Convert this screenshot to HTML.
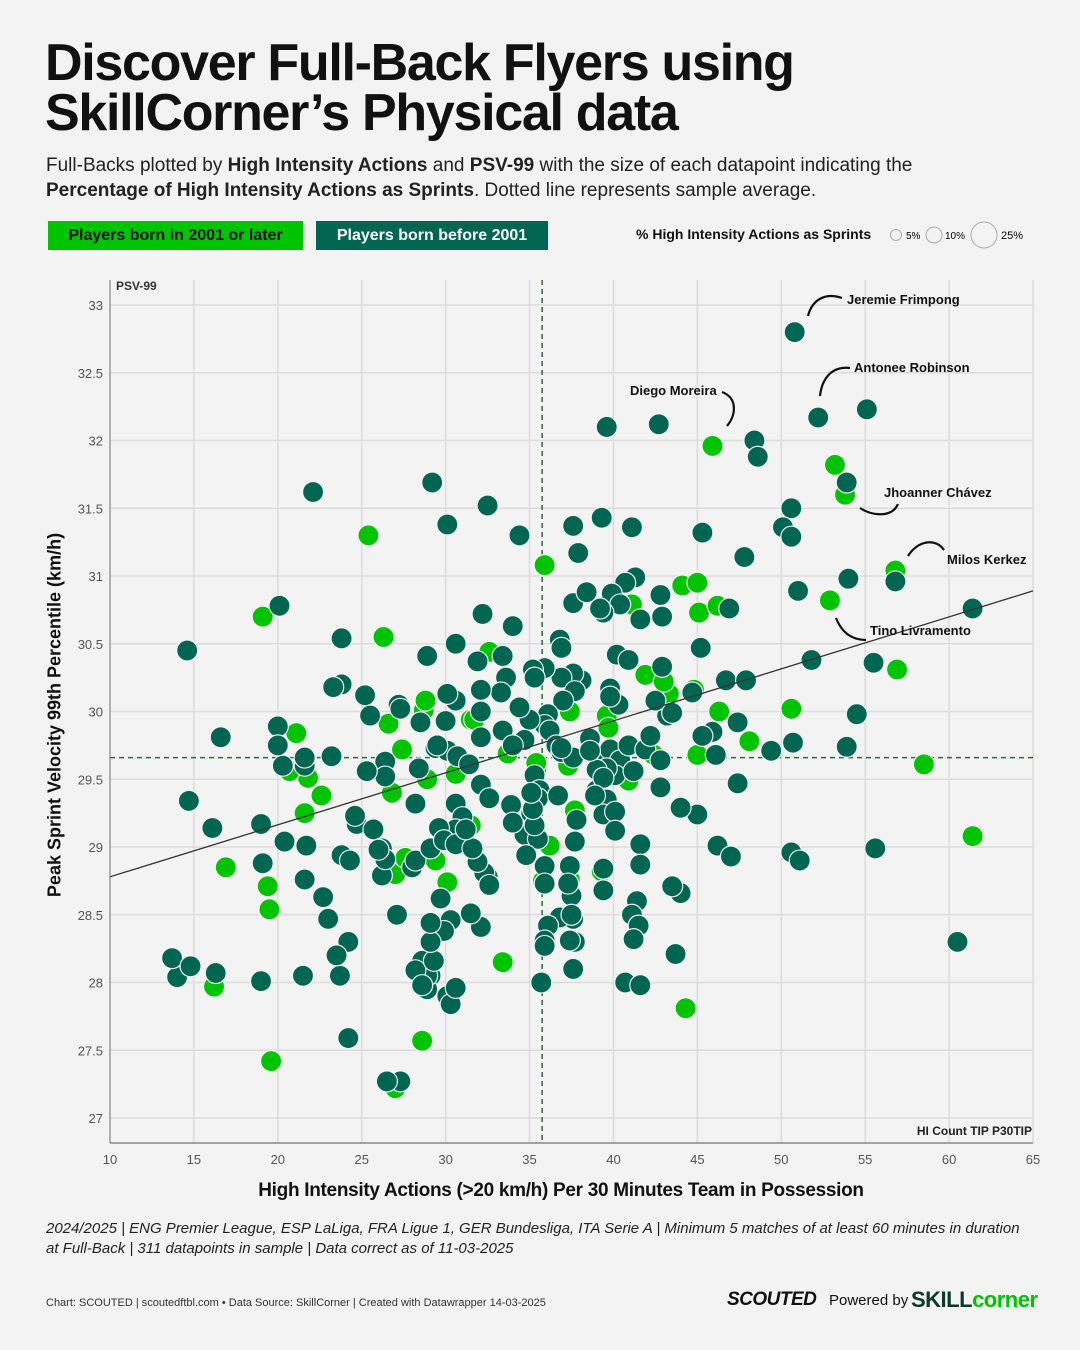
<!DOCTYPE html>
<html><head><meta charset="utf-8">
<style>
body{margin:0;background:#f3f3f3;font-family:"Liberation Sans",sans-serif;color:#111;}
#page{position:relative;width:1080px;height:1350px;overflow:hidden;background:#f3f3f3;}
.t{position:absolute;white-space:nowrap;}
</style></head>
<body>
<div id="page">
<div class="t" style="left:45px;top:38px;font-size:52px;font-weight:bold;line-height:50px;letter-spacing:-1.3px;">Discover Full-Back Flyers using<br>SkillCorner’s Physical data</div>
<div class="t" style="left:46px;top:153px;font-size:19px;line-height:25px;color:#222;">Full-Backs plotted by <b>High Intensity Actions</b> and <b>PSV-99</b> with the size of each datapoint indicating the<br><b>Percentage of High Intensity Actions as Sprints</b>. Dotted line represents sample average.</div>
<div class="t" style="left:48px;top:221px;width:255px;height:29px;background:#00c400;font-size:16px;font-weight:bold;line-height:29px;text-align:center;color:#111;">Players born in 2001 or later</div>
<div class="t" style="left:316px;top:221px;width:232px;height:29px;background:#006652;font-size:16px;font-weight:bold;line-height:29px;text-align:center;color:#fff;">Players born before 2001</div>
<div class="t" style="left:636px;top:226px;font-size:14px;font-weight:bold;">% High Intensity Actions as Sprints</div>
<svg style="position:absolute;left:885px;top:220px" width="150" height="32">
<circle cx="11" cy="15" r="5.5" fill="none" stroke="#aaa"/><text x="21" y="19" font-size="10" font-family="Liberation Sans">5%</text>
<circle cx="49" cy="15" r="8" fill="none" stroke="#aaa"/><text x="60" y="19" font-size="10" font-family="Liberation Sans">10%</text>
<circle cx="99" cy="15" r="13" fill="none" stroke="#aaa"/><text x="116" y="19" font-size="11" font-family="Liberation Sans">25%</text>
</svg>
<svg id="chart" style="position:absolute;left:0;top:0" width="1080" height="1350" font-family="Liberation Sans"></svg>
<div class="t" style="left:55px;top:715px;transform:translate(-50%,-50%) rotate(-90deg);font-size:18px;font-weight:bold;">Peak Sprint Velocity 99th Percentile (km/h)</div>
<div class="t" style="left:561px;top:1180px;transform:translateX(-50%);font-size:19px;font-weight:bold;letter-spacing:-0.3px;">High Intensity Actions (&gt;20 km/h) Per 30 Minutes Team in Possession</div>
<div class="t" style="left:46px;top:1219px;font-size:15px;font-style:italic;line-height:20px;color:#222;">2024/2025 | ENG Premier League, ESP LaLiga, FRA Ligue 1, GER Bundesliga, ITA Serie A | Minimum 5 matches of at least 60 minutes in duration<br>at Full-Back | 311 datapoints in sample | Data correct as of 11-03-2025</div>
<div class="t" style="left:46px;top:1297px;font-size:11px;color:#333;">Chart: SCOUTED | scoutedftbl.com • Data Source: SkillCorner | Created with Datawrapper 14-03-2025</div>
<div class="t" style="left:727px;top:1289px;font-size:19px;font-weight:900;font-style:italic;letter-spacing:-0.5px;">SCOUTED</div>
<div class="t" style="left:829px;top:1292px;font-size:15px;">Powered by</div>
<div class="t" style="left:911px;top:1287px;font-size:22px;font-weight:bold;letter-spacing:-0.5px;"><span style="color:#0b3a2a">SKILL</span><span style="color:#00c400">corner</span></div>
</div>
<script>
const xTicks=[10,15,20,25,30,35,40,45,50,55,60,65];
const yTicks=[27,27.5,28,28.5,29,29.5,30,30.5,31,31.5,32,32.5,33];
const avgX=35.75, avgY=29.66;
const trendX=[10,65]; const trendY=[28.78,30.89];
const oldX=[50.8,52.2,55.1,42.7,39.6,48.4,48.6,53.9,50.6,50.1,50.6,47.8,45.3,39.3,37.6,41.1,37.9,34.4,32.5,30.1,29.2,22.1,56.8,54.0,51.0,61.4,51.8,55.5,54.5,53.9,50.7,49.4,55.6,50.6,51.1,60.5,43.7,40.7,41.6,35.7,44.0,43.5,41.4,41.1,41.6,45.0,44.0,42.8,46.2,47.0,47.4,45.2,46.7,47.9,47.4,45.9,46.1,45.3,44.7,46.9,42.9,42.8,41.3,40.7,39.9,40.4,41.6,39.4,39.2,37.6,38.4,36.8,40.2,40.9,42.9,43.2,43.5,42.5,39.8,40.3,38.1,37.6,36.9,37.7,37.0,35.9,35.2,36.1,35.9,35.0,36.2,36.6,36.9,37.6,38.6,39.0,39.8,40.4,40.9,40.1,39.6,39.0,39.0,39.6,39.4,40.1,41.2,41.9,42.8,42.2,35.3,35.6,35.5,36.7,37.8,34.7,33.9,35.9,37.4,37.5,37.6,36.8,36.1,35.9,37.7,39.4,20.1,14.6,23.8,28.9,32.2,34.0,23.8,25.2,25.5,27.2,28.5,30.0,30.6,31.9,33.4,33.6,33.3,32.1,32.1,34.4,33.4,34.7,32.1,35.3,36.9,36.9,38.6,39.8,39.4,38.9,40.1,41.6,39.4,41.5,41.2,37.6,35.9,37.4,37.5,37.3,35.9,35.5,34.8,34.0,35.1,37.7,35.3,35.2,35.1,32.1,32.6,30.6,31.0,30.6,29.6,28.2,28.4,29.4,30.1,30.7,31.4,29.5,26.4,26.4,25.3,23.2,21.6,20.0,16.6,14.7,16.1,24.7,25.7,26.2,23.8,24.6,28.0,28.2,26.2,24.3,21.6,22.7,23.0,21.7,20.4,19.1,26.4,27.1,26.0,29.1,29.9,30.6,32.5,32.3,31.9,31.6,32.6,29.7,30.3,29.9,28.6,29.1,28.9,28.9,30.1,23.7,24.2,14.0,13.7,14.8,16.3,19.0,21.5,23.5,24.2,27.3,26.5,28.2,28.6,29.3,30.3,30.6,32.1,29.1,29.1,31.5,31.2,19.0,20.3,20.0,21.6,23.3,25.2,27.3,30.1,30.6,34.0,30.1];
const oldY=[32.8,32.17,32.23,32.12,32.1,32.0,31.88,31.69,31.5,31.36,31.29,31.14,31.32,31.43,31.37,31.36,31.17,31.3,31.52,31.38,31.69,31.62,30.96,30.98,30.89,30.76,30.38,30.36,29.98,29.74,29.77,29.71,28.99,28.96,28.9,28.3,28.21,28.0,27.98,28.0,28.66,28.71,28.6,28.5,29.02,29.24,29.29,29.44,29.01,28.93,29.47,30.47,30.23,30.23,29.92,29.85,29.68,29.82,30.14,30.76,30.7,30.86,30.99,30.95,30.87,30.79,30.68,30.73,30.76,30.8,30.88,30.53,30.42,30.38,30.33,29.97,29.99,30.08,30.17,30.05,30.23,30.28,30.25,30.15,30.08,30.32,30.31,29.98,29.9,29.94,29.86,29.75,29.7,29.66,29.8,29.68,29.72,29.64,29.75,29.53,29.58,29.57,29.42,29.35,29.24,29.26,29.56,29.72,29.64,29.82,29.53,29.42,29.36,29.38,29.2,29.09,29.31,28.86,28.86,28.64,28.47,28.48,28.42,28.31,28.3,28.84,30.78,30.45,30.54,30.41,30.72,30.63,30.2,30.11,29.97,30.05,29.92,29.93,30.08,30.37,30.41,30.25,30.14,30.16,30.0,30.03,29.86,29.79,29.81,30.25,30.47,29.73,29.71,30.11,29.51,29.38,29.12,28.87,28.68,28.42,28.32,28.1,28.27,28.31,28.5,28.73,28.73,29.06,28.94,29.18,29.25,29.04,29.16,29.28,29.4,29.46,29.36,29.32,29.22,29.13,29.14,29.32,29.58,29.73,29.71,29.67,29.61,29.75,29.63,29.52,29.56,29.67,29.6,29.89,29.81,29.34,29.14,29.17,29.13,28.99,28.94,29.23,28.85,28.9,28.79,28.9,28.76,28.63,28.47,29.01,29.04,28.88,28.91,28.5,28.98,28.99,29.05,29.02,28.78,28.81,28.89,28.99,28.72,28.62,28.46,28.38,28.16,28.05,27.95,28.05,27.9,28.05,28.3,28.04,28.18,28.12,28.07,28.01,28.05,28.2,27.59,27.27,27.27,28.09,27.98,28.16,27.84,27.96,28.41,28.3,28.44,28.51,29.13,29.17,29.6,29.75,29.66,30.18,30.12,30.02,30.13,30.5,29.75];
const youngX=[45.9,53.2,53.8,25.4,35.9,56.8,52.9,56.9,50.6,58.5,61.4,44.3,46.3,45.0,48.1,43.3,44.1,45.0,45.1,46.2,41.1,41.9,43.0,39.6,37.4,37.3,40.9,42.4,35.4,37.7,36.2,35.8,37.4,39.3,33.4,19.1,26.3,32.6,26.6,28.7,31.5,33.7,35.4,39.7,26.8,28.9,27.4,21.1,21.8,22.6,21.6,30.6,16.9,19.5,27.0,27.6,29.4,30.1,31.5,33.4,16.2,19.6,28.6,27.0,19.4,20.7,28.8,31.7,44.8];
const youngY=[31.96,31.82,31.6,31.3,31.08,31.04,30.82,30.31,30.02,29.61,29.08,27.81,30.0,29.68,29.78,30.13,30.93,30.95,30.73,30.78,30.79,30.27,30.22,29.97,30.0,29.6,29.49,29.68,29.57,29.27,29.01,28.75,28.76,28.82,28.15,30.7,30.55,30.44,29.91,30.01,29.94,29.69,29.62,29.88,29.4,29.5,29.72,29.84,29.51,29.38,29.25,29.54,28.85,28.54,28.8,28.92,28.9,28.74,29.16,28.15,27.97,27.42,27.57,27.22,28.71,29.56,30.08,29.94,30.16];
const NS='http://www.w3.org/2000/svg';
const svg=document.getElementById('chart');
const X0=110,X1=1033,Y0=1118,Y1=305;
function sx(v){return X0+(v-10)/55*(X1-X0);}
function sy(v){return Y0-(v-27)/6*(Y0-Y1);}
function mk(tag,attrs){const e=document.createElementNS(NS,tag);for(const k in attrs)e.setAttribute(k,attrs[k]);svg.appendChild(e);return e;}
yTicks.forEach(v=>{
 const l=mk('line',{x1:X0,x2:X1,y1:sy(v),y2:sy(v),stroke:'#dcdcdc','stroke-width':1.5});
 
 
 const t=mk('text',{x:103,y:sy(v)+5,'text-anchor':'end','font-size':13,fill:'#555'});t.textContent=v;
 
 
});
xTicks.forEach(v=>{
 const l=mk('line',{x1:sx(v),x2:sx(v),y1:280,y2:1143,stroke:v===10?'#999':'#dcdcdc','stroke-width':1.5});
 
 
 const t=mk('text',{x:sx(v),y:1164,'text-anchor':'middle','font-size':13,fill:'#555'});t.textContent=v;
 
 
});
const ax=mk('line',{x1:X0,x2:X1,y1:1143,y2:1143,stroke:'#888','stroke-width':1.5});


const pl=mk('text',{x:116,y:290,'font-size':12,'font-weight':'bold',fill:'#333'});pl.textContent='PSV-99';


const hl=mk('text',{x:1032,y:1135,'text-anchor':'end','font-size':12,'font-weight':'bold',fill:'#222'});hl.textContent='HI Count TIP P30TIP';


const av1=mk('line',{x1:sx(avgX),x2:sx(avgX),y1:280,y2:1143,stroke:'#2d6a3a','stroke-width':1.5,'stroke-dasharray':'5,4'});


const av2=mk('line',{x1:X0,x2:X1,y1:sy(avgY),y2:sy(avgY),stroke:'#2d6a3a','stroke-width':1.5,'stroke-dasharray':'5,4'});


function dot(x,y,c,r){const e=mk('circle',{cx:sx(x),cy:sy(y),r:r,fill:c,stroke:'#f3f3f3','stroke-width':1.2});return e;}
const nY=Math.min(youngX.length,youngY.length);
for(let i=0;i<nY;i++){const e=dot(youngX[i],youngY[i],'#00c400',10.5);
 
 }
const nO=Math.min(oldX.length,oldY.length);
for(let i=0;i<nO;i++){const e=dot(oldX[i],oldY[i],'#006652',10.5);
 
 }
const tr=mk('line',{x1:sx(trendX[0]),y1:sy(trendY[0]),x2:sx(trendX[1]),y2:sy(trendY[1]),stroke:'#333','stroke-width':1.3});


const labels=[['Jeremie Frimpong',847,304,'M842,298 C825,292 812,300 808,316'],['Antonee Robinson',854,372,'M850,368 C832,366 822,378 820,396'],['Diego Moreira',630,395,'M722,392 C738,398 736,415 727,426'],['Jhoanner Chávez',884,497,'M898,504 C892,518 872,516 860,508'],['Milos Kerkez',947,564,'M944,550 C936,538 918,540 908,556'],['Tino Livramento',870,635,'M866,640 C848,640 840,628 836,618']];
labels.forEach(l=>{
 const t=mk('text',{x:l[1],y:l[2],'font-size':13,'font-weight':'bold',fill:'#111'});t.textContent=l[0];
 
 
 const p=mk('path',{d:l[3],fill:'none',stroke:'#111','stroke-width':2.2});
 
 
});
</script>
</body></html>
